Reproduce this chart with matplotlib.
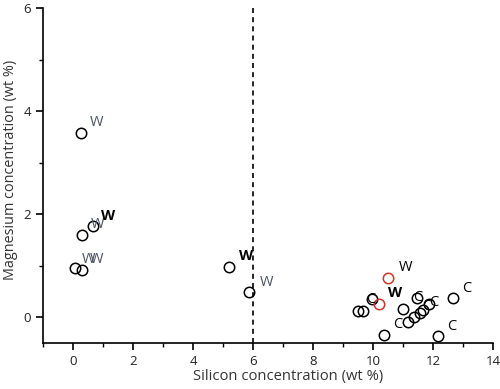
import matplotlib
matplotlib.use('Agg')
import matplotlib.pyplot as plt
from matplotlib.ticker import MultipleLocator

plt.rcParams['font.family'] = ['Open Sans', 'DejaVu Sans']

# ---- data ----
si = [0.25, 0.30, 0.67, 0.07, 0.30, 5.20, 5.87,
      9.50, 9.67, 9.97, 10.37, 11.00, 11.17, 11.47, 11.37, 11.57, 11.65, 11.87, 12.67, 12.17]
mg = [3.58, 1.59, 1.77, 0.95, 0.91, 0.97, 0.49,
      0.12, 0.12, 0.35, -0.35, 0.17, -0.10, 0.38, 0.00, 0.08, 0.15, 0.25, 0.37, -0.37]
labels = ['W', '', 'W', 'W', 'W', 'W', 'W',
          '', '', 'C', '', '', 'C', 'C', '', '', 'C', 'C', 'C', 'C']
# label style: g = grey normal, b = black bold, k = black normal
lstyle = ['g', '', 'g', 'g', 'g', 'b', 'g',
          '', '', 'k', '', '', 'k', 'k', '', '', 'k', 'k', 'k', 'k']
# extra bold W near the 0.67/1.77 point
extra = [(0.67, 1.77, 'W', 'b')]

red_si = [10.20, 10.50]
red_mg = [0.25, 0.76]
red_labels = ['W', 'W']
red_lstyle = ['b', 'k']

# label centre offsets from the marker, in pixels (x right, y up)
offs = [(16, 10), None, (4, 2), (13, 9), (15, 11), (17, 11), (17, 10),
        None, None, (-1, 0), None, None, (-10, -2), (1, 0), None, None, (4, 3), (5, 2), (14, 10), (14, 10)]
red_offs = [(16, 11), (18, 11)]
extra_off = (15, 10)

styles = {'g': dict(color='#4d5362', fontweight='normal'),
          'b': dict(color='black', fontweight='bold'),
          'k': dict(color='black', fontweight='normal')}

fig = plt.figure(figsize=(5, 3.89), dpi=100)
ax = fig.add_axes([0.086, 0.118, 0.9, 0.861])

ax.axvline(6, color='black', ls=(0, (3, 2.5)), lw=1.2, zorder=1)
ax.plot(si, mg, 'o', ms=7.5, mfc='none', mec='black', mew=1.1, zorder=3)
ax.plot(red_si, red_mg, 'o', ms=7.5, mfc='none', mec='#d0342c', mew=1.1, zorder=3)

def put(x, y, t, s, o):
    ax.annotate(t, (x, y), xytext=(o[0] * 0.72, o[1] * 0.72), textcoords='offset points',
                fontsize=10.5, va='center', ha='center', zorder=4, **styles[s])

for x, y, t, s, o in zip(si, mg, labels, lstyle, offs):
    if t:
        put(x, y, t, s, o)
for x, y, t, s in extra:
    put(x, y, t, s, extra_off)
for x, y, t, s, o in zip(red_si, red_mg, red_labels, red_lstyle, red_offs):
    put(x, y, t, s, o)

ax.set_xlim(-1, 14)
ax.set_ylim(-0.5, 6)
ax.xaxis.set_major_locator(MultipleLocator(2))
ax.xaxis.set_minor_locator(MultipleLocator(1))
ax.yaxis.set_major_locator(MultipleLocator(2))
ax.yaxis.set_minor_locator(MultipleLocator(1))
ax.tick_params(which='major', length=5, width=1.2, labelsize=9.5, color='black', labelcolor='#222222')
ax.tick_params(which='minor', length=3, width=1.0)
for s in ['top', 'right']:
    ax.spines[s].set_visible(False)
for s in ['left', 'bottom']:
    ax.spines[s].set_linewidth(1.2)

ax.set_xlabel('Silicon concentration (wt %)', fontsize=10.6, color='#333333')
ax.set_ylabel('Magnesium concentration (wt %)', fontsize=10.4, color='#333333')
ax.xaxis.set_label_coords(0.544, -0.078)
ax.yaxis.set_label_coords(-0.056, 0.516)

fig.savefig('out.png', dpi=100)
